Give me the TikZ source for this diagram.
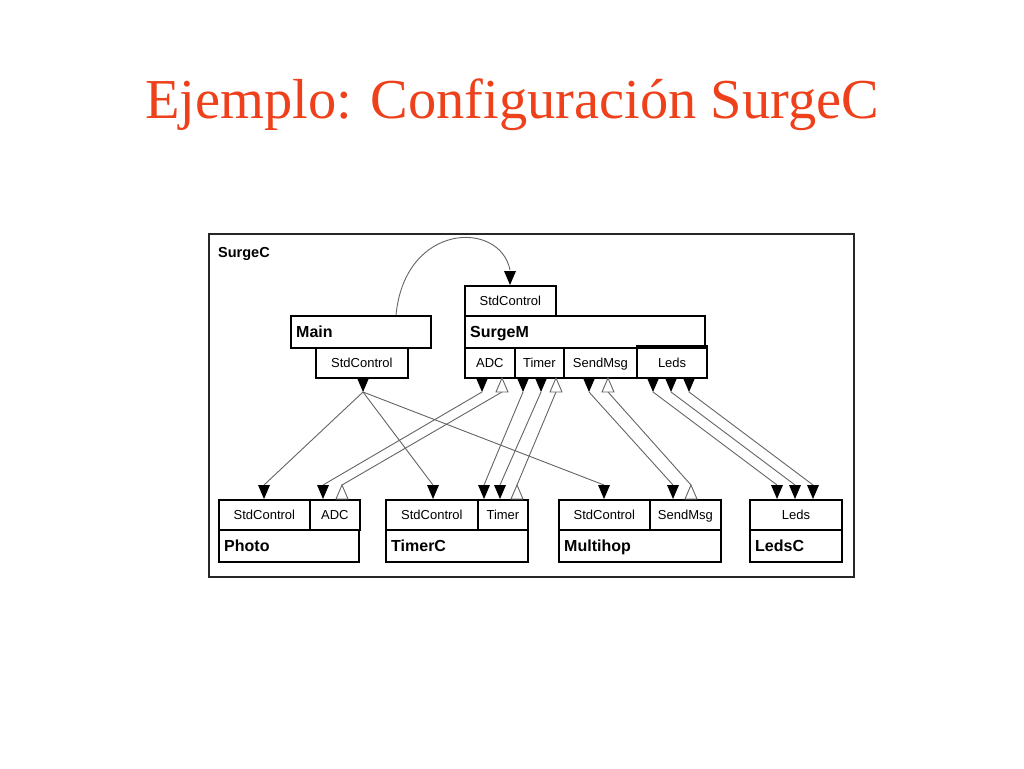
\documentclass[tikz,border=0pt]{standalone}
\usepackage{fontspec}
\setmainfont{Liberation Serif}
\setsansfont{Liberation Sans}
\definecolor{titlered}{RGB}{238,64,26}
\definecolor{wire}{RGB}{100,100,100}
\begin{document}
\begin{tikzpicture}[x=1pt,y=-1pt,
  box/.style={draw=black,line width=1.8pt,inner sep=0pt,anchor=north west},
  nm/.style={font=\sffamily\bfseries\fontsize{16}{18}\selectfont,anchor=west,inner sep=0pt,text height=11.5pt,text depth=0pt},
  itf/.style={font=\sffamily\fontsize{13}{15}\selectfont,inner sep=0pt,text height=9.3pt,text depth=0pt},
  wireline/.style={draw=wire,line width=0.9pt},
  otri/.style={draw=wire,fill=white,line width=0.9pt}]
\useasboundingbox (0,0) rectangle (1024,768);
\fill[white] (0,0) rectangle (1024,768);
\newcommand\dtri[2]{\fill ({#1-6},#2) -- ({#1+6},#2) -- (#1,{#2+14}) -- cycle;}
\newcommand\utri[2]{\draw[otri] ({#1-6},#2) -- ({#1+6},#2) -- (#1,{#2-14}) -- cycle;}
% title
\node[font=\fontsize{56.4}{64}\selectfont,text=titlered,anchor=base,inner sep=0pt] (title) at (512,118) {Ejemplo: Configuración SurgeC};
% frame
\node[draw=black!85,line width=1.8pt,inner sep=0pt,minimum width=645,minimum height=343,anchor=north west] (frame) at (208,233) {};
\node[nm,font=\sffamily\bfseries\fontsize{14.5}{16}\selectfont,text height=10.4pt] (frameT) at (218,252) {SurgeC};
% Main
\node[box,minimum width=140,minimum height=32] (main) at (290,315) {};
\node[nm] (mainT) at ([xshift=6]main.west) {Main};
\node[box,minimum width=92,minimum height=30] (mainSC) at (315,347) {};
\node[itf] (mainSCT) at (mainSC) {StdControl};
% SurgeM
\node[box,minimum width=91,minimum height=30] (smSC) at (464,285) {};
\node[itf] (smSCT) at (smSC) {StdControl};
\node[box,minimum width=240,minimum height=32] (sm) at (464,315) {};
\node[nm] (smT) at ([xshift=6]sm.west) {SurgeM};
\node[box,minimum width=50,minimum height=30] (smADC) at (464,347) {};
\node[itf] (smADCT) at (smADC) {ADC};
\node[box,minimum width=49,minimum height=30] (smTim) at (514,347) {};
\node[itf] (smTimT) at (smTim) {Timer};
\node[box,minimum width=73,minimum height=30] (smSM) at (563,347) {};
\node[itf] (smSMT) at (smSM) {SendMsg};
\node[box,line width=2.2pt,minimum width=70,minimum height=32] (smLed) at (636,345) {};
\node[itf] (smLedT) at ([yshift=-1pt]smLed) {Leds};
% Photo
\node[box,minimum width=91,minimum height=30] (phSC) at (218,499) {};
\node[itf] (phSCT) at (phSC) {StdControl};
\node[box,minimum width=50,minimum height=30] (phADC) at (309,499) {};
\node[itf] (phADCT) at (phADC) {ADC};
\node[box,minimum width=140,minimum height=32] (ph) at (218,529) {};
\node[nm] (phT) at ([xshift=6]ph.west) {Photo};
% TimerC
\node[box,minimum width=92,minimum height=30] (tcSC) at (385,499) {};
\node[itf] (tcSCT) at (tcSC) {StdControl};
\node[box,minimum width=50,minimum height=30] (tcTim) at (477,499) {};
\node[itf] (tcTimT) at (tcTim) {Timer};
\node[box,minimum width=142,minimum height=32] (tc) at (385,529) {};
\node[nm] (tcT) at ([xshift=6]tc.west) {TimerC};
% Multihop
\node[box,minimum width=91,minimum height=30] (mhSC) at (558,499) {};
\node[itf] (mhSCT) at (mhSC) {StdControl};
\node[box,minimum width=71,minimum height=30] (mhSM) at (649,499) {};
\node[itf] (mhSMT) at (mhSM) {SendMsg};
\node[box,minimum width=162,minimum height=32] (mh) at (558,529) {};
\node[nm] (mhT) at ([xshift=6]mh.west) {Multihop};
% LedsC
\node[box,minimum width=92,minimum height=30] (lcLed) at (749,499) {};
\node[itf] (lcLedT) at (lcLed) {Leds};
\node[box,minimum width=92,minimum height=32] (lc) at (749,529) {};
\node[nm] (lcT) at ([xshift=6]lc.west) {LedsC};
% coordinates of wire ends
\coordinate (mainUp) at (396,315);
\coordinate (smSCin) at (510,270);
\coordinate (mainOut) at (363,392);
\coordinate (phSCin) at (264,485);
\coordinate (tcSCin) at (433,485);
\coordinate (mhSCin) at (604,485);
\coordinate (adcU) at (482,392);
\coordinate (adcP) at (323,485);
\coordinate (adcEvP) at (342,485);
\coordinate (adcEvU) at (502,392);
\coordinate (timU1) at (523,392);
\coordinate (timP1) at (484,485);
\coordinate (timU2) at (541,392);
\coordinate (timP2) at (500,485);
\coordinate (timEvP) at (517,485);
\coordinate (timEvU) at (556,392);
\coordinate (smU) at (589,392);
\coordinate (smP) at (673,485);
\coordinate (smEvP) at (691,485);
\coordinate (smEvU) at (608,392);
\coordinate (ledU1) at (653,392);
\coordinate (ledP1) at (777,485);
\coordinate (ledU2) at (671,392);
\coordinate (ledP2) at (795,485);
\coordinate (ledU3) at (689,392);
\coordinate (ledP3) at (813,485);
% wires
\draw[wireline] (mainUp) .. controls (405,222) and (500,220) .. (smSCin);
\draw[wireline] (mainOut) -- (phSCin);
\draw[wireline] (mainOut) -- (tcSCin);
\draw[wireline] (mainOut) -- (mhSCin);
\draw[wireline] (adcU) -- (adcP);
\draw[wireline] (adcEvP) -- (adcEvU);
\draw[wireline] (timU1) -- (timP1);
\draw[wireline] (timU2) -- (timP2);
\draw[wireline] (timEvP) -- (timEvU);
\draw[wireline] (smU) -- (smP);
\draw[wireline] (smEvP) -- (smEvU);
\draw[wireline] (ledU1) -- (ledP1);
\draw[wireline] (ledU2) -- (ledP2);
\draw[wireline] (ledU3) -- (ledP3);
% filled arrowheads (pointing down)
\dtri{510}{271}
\dtri{363}{378}
\dtri{482}{378}
\dtri{523}{378}
\dtri{541}{378}
\dtri{589}{378}
\dtri{653}{378}
\dtri{671}{378}
\dtri{689}{378}
\dtri{264}{485}
\dtri{323}{485}
\dtri{433}{485}
\dtri{484}{485}
\dtri{500}{485}
\dtri{604}{485}
\dtri{673}{485}
\dtri{777}{485}
\dtri{795}{485}
\dtri{813}{485}
% open arrowheads (pointing up)
\utri{502}{392}
\utri{556}{392}
\utri{608}{392}
\utri{342}{499}
\utri{517}{499}
\utri{691}{499}
\end{tikzpicture}
\end{document}
